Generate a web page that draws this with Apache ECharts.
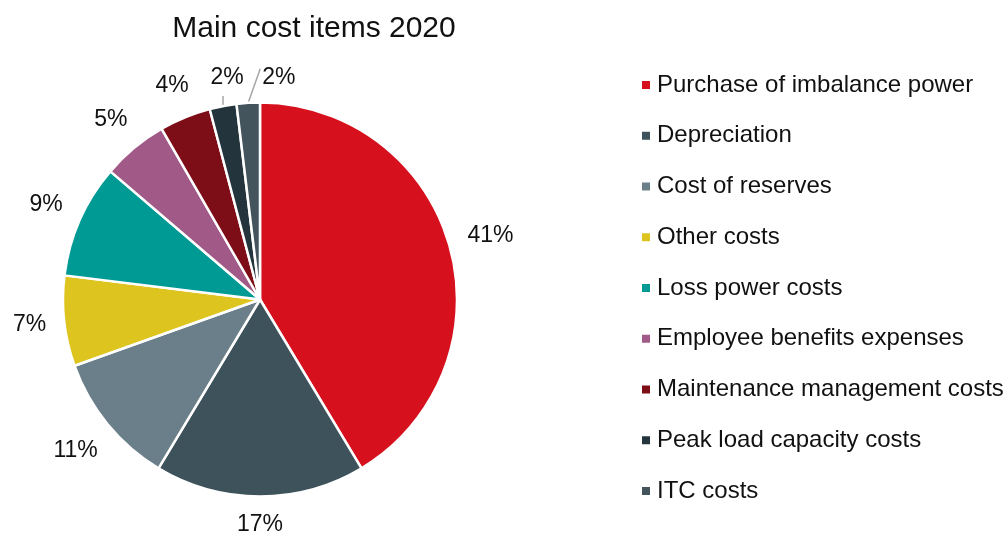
<!DOCTYPE html>
<html>
<head>
<meta charset="utf-8">
<script src="https://cdn.jsdelivr.net/npm/echarts@6/dist/echarts.min.js"></script>
<style>
  html, body { margin: 0; padding: 0; background: #fff; }
  #main { width: 1006px; height: 535px; }
</style>
</head>
<body>
<div id="main"></div>
<script>
// cost items, share of total in percent
var categories = ['Purchase of imbalance power', 'Depreciation', 'Cost of reserves', 'Other costs',
    'Loss power costs', 'Employee benefits expenses', 'Maintenance management costs',
    'Peak load capacity costs', 'ITC costs'];
var shares = [41.3, 17.2, 10.9, 7.4, 9.3, 5.4, 4.2, 2.2, 1.9];
var shareLabels = ['41%', '17%', '11%', '7%', '9%', '5%', '4%', '2%', '2%'];
var colors = ['#D7101E', '#3D525B', '#6B7F8A', '#DEC41E', '#009A94', '#A15A87', '#7D0D17', '#24343C', '#43545D'];

var pieCenter = [260, 299.5];
var pieRadius = 197;
var labelGap = 17;

var myChart = echarts.init(document.getElementById('main'));

// mid angle of each slice, clockwise from 12 o'clock, in radians
var total = 0;
for (var i = 0; i < shares.length; i++) total += shares[i];
var midAngles = [];
var cum = 0;
for (var i = 0; i < shares.length; i++) {
    midAngles.push((cum + shares[i] / 2) / total * Math.PI * 2);
    cum += shares[i];
}

var pieData = [];
for (var i = 0; i < categories.length; i++) {
    var item = {
        name: categories[i],
        value: shares[i],
        itemStyle: { color: colors[i] }
    };
    // only the two thin slices at the top get a leader line
    if (i >= 7) {
        item.labelLine = { show: true };
    }
    pieData.push(item);
}

// put label boxes just outside the rim, like the office chart "outside end" labels
function placeLabel(params) {
    var idx = params.dataIndex;
    var a = midAngles[idx];
    var ux = Math.sin(a), uy = -Math.cos(a);
    var w = params.labelRect.width, h = params.labelRect.height;
    var ex = pieCenter[0] + pieRadius * ux, ey = pieCenter[1] + pieRadius * uy;
    if (idx === 7) {
        // short straight leader going up, label above it
        return {
            x: ex + 4, y: ey - 28,
            align: 'center', verticalAlign: 'middle',
            labelLinePoints: [[ex, ey], [ex, ey - 10], [ex, ey - 10]]
        };
    }
    if (idx === 8) {
        // leader slanting up to the right, label to its right
        return {
            x: ex + 14, y: ey - 25,
            align: 'left', verticalAlign: 'middle',
            labelLinePoints: [[ex, ey], [ex + 12, ey - 34], [ex + 12, ey - 34]]
        };
    }
    var d = pieRadius + labelGap + w / 2 * Math.abs(ux) + h / 2 * Math.abs(uy);
    return {
        x: pieCenter[0] + d * ux,
        y: pieCenter[1] + d * uy,
        align: 'center',
        verticalAlign: 'middle'
    };
}

var option = {
    backgroundColor: '#fff',
    animation: false,
    title: {
        text: 'Main cost items 2020',
        left: 309,
        top: 9,
        textAlign: 'center',
        textStyle: { fontFamily: 'Liberation Sans', fontSize: 30, fontWeight: 'normal', color: '#111' }
    },
    legend: {
        orient: 'vertical',
        left: 640,
        top: 73,
        padding: 0,
        itemWidth: 10,
        itemHeight: 10,
        itemGap: 26.75,
        icon: 'rect',
        data: categories,
        textStyle: { fontFamily: 'Liberation Sans', fontSize: 24, lineHeight: 24, color: '#111', padding: [0, 0, 0, 1] }
    },
    series: [
        {
            type: 'pie',
            center: pieCenter,
            radius: pieRadius,
            startAngle: 90,
            clockwise: true,
            avoidLabelOverlap: false,
            itemStyle: { borderColor: '#fff', borderWidth: 2.5 },
            label: {
                position: 'outside',
                fontFamily: 'Liberation Sans',
                fontSize: 23,
                color: '#111',
                formatter: function (p) { return shareLabels[p.dataIndex]; }
            },
            labelLine: {
                show: false,
                length: 12,
                length2: 0,
                lineStyle: { color: '#a6a6a6', width: 1.5 }
            },
            labelLayout: placeLabel,
            data: pieData
        }
    ]
};

myChart.setOption(option);
</script>
</body>
</html>
